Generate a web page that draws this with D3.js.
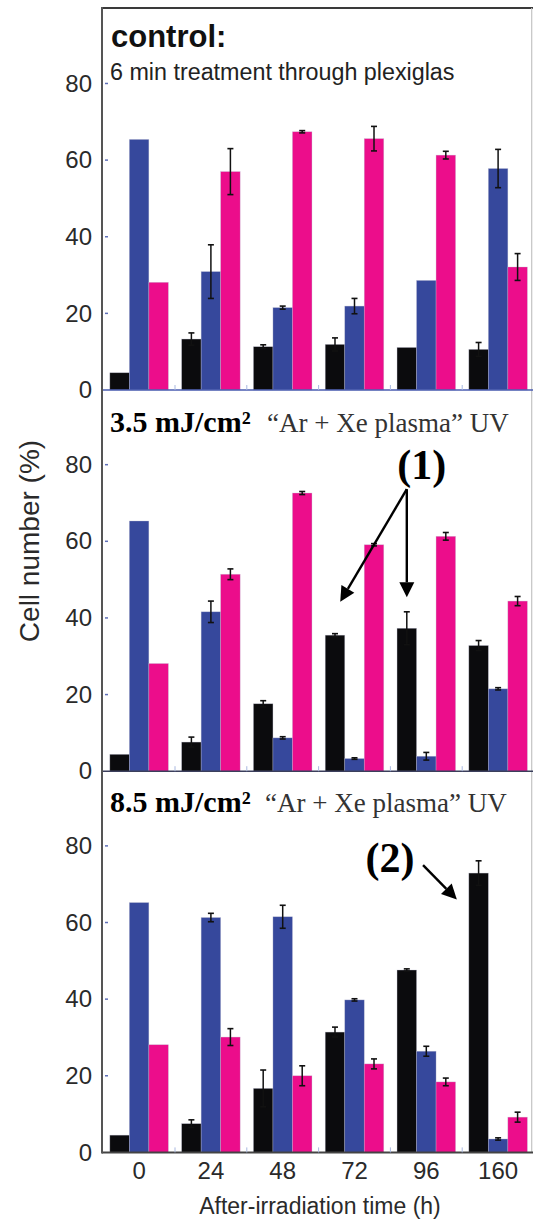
<!DOCTYPE html>
<html><head><meta charset="utf-8">
<script src="https://cdn.jsdelivr.net/npm/d3@7"></script>
<style>html,body{margin:0;padding:0;background:#fff;} svg{display:block;}</style>
</head><body>
<svg id="chart" width="533" height="1222"></svg>
<script>
// ---------- data ----------
const times = ["0", "24", "48", "72", "96", "160"];
const seriesKeys = ["black", "blue", "magenta"];
const yTicks = [0, 20, 40, 60, 80];

// control: 6 min treatment through plexiglas
const controlBlack      = [4.5, 13.3, 11.3, 11.9, 11.1, 10.6];
const controlBlackErr   = [0, 1.6, 0.5, 1.7, 0, 1.8];
const controlBlue       = [65.4, 30.9, 21.5, 21.9, 28.6, 57.8];
const controlBlueErr    = [0, 7.0, 0.4, 2.0, 0, 5.0];
const controlMagenta    = [28.1, 57.0, 67.4, 65.6, 61.3, 32.1];
const controlMagentaErr = [0, 6.0, 0.3, 3.2, 1.0, 3.5];

// 3.5 mJ/cm2
const low35Black      = [4.4, 7.6, 17.6, 35.5, 37.3, 32.8];
const low35BlackErr   = [0, 1.3, 0.8, 0.4, 4.3, 1.3];
const low35Blue       = [65.3, 41.6, 8.7, 3.3, 3.9, 21.5];
const low35BlueErr    = [0, 2.8, 0.3, 0.2, 1.0, 0.3];
const low35Magenta    = [28.1, 51.4, 72.6, 59.1, 61.3, 44.4];
const low35MagentaErr = [0, 1.4, 0.4, 0.3, 1.0, 1.2];

// 8.5 mJ/cm2
const high85Black      = [4.5, 7.5, 16.7, 31.4, 47.6, 72.9];
const high85BlackErr   = [0, 1.0, 4.8, 1.3, 0.3, 3.2];
const high85Blue       = [65.2, 61.3, 61.5, 39.8, 26.4, 3.5];
const high85BlueErr    = [0, 1.1, 3.0, 0.3, 1.3, 0.3];
const high85Magenta    = [28.1, 30.1, 20.0, 23.1, 18.4, 9.2];
const high85MagentaErr = [0, 2.2, 2.6, 1.3, 1.0, 1.3];

// ---------- styles ----------
const colors = {black: "#0b0b0d", blue: "#36489c", magenta: "#ec0d8b"};
const SANS = "'Liberation Sans', Arial, sans-serif";
const SERIF = "'Liberation Serif', 'Times New Roman', serif";

const panels = [
  {vals: [controlBlack, controlBlue, controlMagenta], errs: [controlBlackErr, controlBlueErr, controlMagentaErr]},
  {vals: [low35Black, low35Blue, low35Magenta], errs: [low35BlackErr, low35BlueErr, low35MagentaErr]},
  {vals: [high85Black, high85Blue, high85Magenta], errs: [high85BlackErr, high85BlueErr, high85MagentaErr]}
];

const svg = d3.select("#chart");
const panelTop0 = 8, panelH = 382, panelGap = 381.2;
const axisX = 102;

const x0 = d3.scaleBand().domain(times).range([103.2, 534]).paddingInner(0.185).paddingOuter(0.0925);
const x1 = d3.scaleBand().domain(seriesKeys).range([0, x0.bandwidth()]);

const yScales = panels.map((p, i) => {
  const top = panelTop0 + i * panelGap;
  return d3.scaleLinear().domain([0, 99.7]).range([top + panelH, top]);
});

// frame: top & right border
svg.append("line").attr("x1", axisX - 1).attr("x2", 533).attr("y1", panelTop0).attr("y2", panelTop0)
  .attr("stroke", "#3a3a3a").attr("stroke-width", 2);
svg.append("line").attr("x1", 531.7).attr("x2", 531.7).attr("y1", panelTop0).attr("y2", yScales[2](0))
  .attr("stroke", "#c4c4c4").attr("stroke-width", 1.2);

panels.forEach((p, pi) => {
  const y = yScales[pi];
  const g = svg.append("g");

  // bars
  const rows = [];
  times.forEach((t, ti) => {
    seriesKeys.forEach((s, si) => {
      rows.push({t, s, v: p.vals[si][ti], e: p.errs[si][ti]});
    });
  });
  g.selectAll("rect.bar").data(rows).join("rect")
    .attr("class", "bar")
    .attr("x", d => x0(d.t) + x1(d.s))
    .attr("width", x1.bandwidth())
    .attr("y", d => y(d.v))
    .attr("height", d => y(0) - y(d.v))
    .attr("fill", d => colors[d.s])
    .attr("stroke", "rgba(190,190,210,0.55)").attr("stroke-width", 0.6);

  // error bars
  const eb = g.selectAll("g.err").data(rows.filter(d => d.e > 0)).join("g").attr("class", "err");
  const cx = d => x0(d.t) + x1(d.s) + x1.bandwidth() / 2;
  eb.append("line").attr("x1", cx).attr("x2", cx)
    .attr("y1", d => y(d.v - d.e)).attr("y2", d => y(d.v + d.e))
    .attr("stroke", "#111").attr("stroke-width", 1.5);
  [1, -1].forEach(sign => {
    eb.append("line").attr("x1", d => cx(d) - 3).attr("x2", d => cx(d) + 3)
      .attr("y1", d => y(d.v + sign * d.e)).attr("y2", d => y(d.v + sign * d.e))
      .attr("stroke", "#111").attr("stroke-width", 1.6);
  });

  // x axis baseline
  g.append("line").attr("x1", axisX).attr("x2", 533).attr("y1", y(0)).attr("y2", y(0))
    .attr("stroke", pi === 0 ? "#4a5cb0" : (pi === 1 ? "#3b3f5c" : "#444"))
    .attr("stroke-width", pi === 2 ? 2 : 1.6);

  // band boundary ticks
  const halfGap = (x0.step() - x0.bandwidth()) / 2;
  g.selectAll("line.bt").data(times.slice(1)).join("line").attr("class", "bt")
    .attr("x1", t => x0(t) - halfGap).attr("x2", t => x0(t) - halfGap)
    .attr("y1", y(0)).attr("y2", y(0) - 5)
    .attr("stroke", "#a9b8e0").attr("stroke-width", 1);

  // y tick marks (inside)
  g.selectAll("line.yt").data(yTicks.filter(v => v > 0)).join("line").attr("class", "yt")
    .attr("x1", axisX + 3).attr("x2", axisX + 6)
    .attr("y1", v => y(v)).attr("y2", v => y(v))
    .attr("stroke", "#6070b8").attr("stroke-width", 1.5);

  // y axis labels
  const ya = g.append("g").attr("transform", `translate(${axisX},0)`)
    .call(d3.axisLeft(y).tickValues(yTicks).tickSize(0).tickPadding(10));
  ya.select(".domain").remove();
  ya.selectAll("text").attr("font-family", SANS).attr("font-size", 24).attr("fill", "#2a2a2a");
});

// left axis line (continuous)
svg.append("line").attr("x1", axisX).attr("x2", axisX).attr("y1", panelTop0 - 1).attr("y2", yScales[2](0) + 1)
  .attr("stroke", "#555").attr("stroke-width", 2);

// x axis labels (bottom panel only)
const xa = svg.append("g").attr("transform", `translate(0,${yScales[2](0)})`)
  .call(d3.axisBottom(x0).tickSize(0).tickPadding(10));
xa.select(".domain").remove();
xa.selectAll("text").attr("font-family", SANS).attr("font-size", 24).attr("fill", "#2a2a2a");

// axis titles
svg.append("text").attr("x", 320).attr("y", 1214).attr("text-anchor", "middle")
  .attr("font-family", SANS).attr("font-size", 23).attr("fill", "#2a2a2a")
  .text("After-irradiation time (h)");
svg.append("text").attr("transform", "translate(39,541) rotate(-90)").attr("text-anchor", "middle")
  .attr("font-family", SANS).attr("font-size", 28).attr("fill", "#2a2a2a")
  .text("Cell number (%)");

// panel titles
svg.append("text").attr("x", 111).attr("y", 46.5).attr("font-family", SANS).attr("font-weight", "bold")
  .attr("font-size", 31).attr("fill", "#111").text("control:");
svg.append("text").attr("x", 110).attr("y", 80).attr("font-family", SANS)
  .attr("font-size", 23.3).attr("fill", "#222").text("6 min treatment through plexiglas");

[[431.7, "3.5", 267], [811.7, "8.5", 265]].forEach(([by, dose, rx]) => {
  const t = svg.append("text").attr("y", by).attr("font-family", SERIF);
  t.append("tspan").attr("x", 110).attr("font-weight", "bold").attr("font-size", 30).attr("fill", "#000")
    .text(dose + " mJ/cm²");
  t.append("tspan").attr("x", rx).attr("font-size", 27).attr("fill", "#333")
    .text("\u201CAr + Xe plasma\u201D UV");
});

// annotations
function arrow(xa, ya, xb, yb) {
  const ang = Math.atan2(yb - ya, xb - xa), L = 15, Wd = 7.5;
  const bx = xb - L * Math.cos(ang), by = yb - L * Math.sin(ang);
  svg.append("line").attr("x1", xa).attr("y1", ya).attr("x2", bx).attr("y2", by)
    .attr("stroke", "#000").attr("stroke-width", 2.4);
  const px = -Math.sin(ang) * Wd, py = Math.cos(ang) * Wd;
  svg.append("path").attr("d", `M${xb},${yb}L${bx + px},${by + py}L${bx - px},${by - py}Z`).attr("fill", "#000");
}
const y2 = yScales[1], y3 = yScales[2];
const blackCenter = t => x0(t) + x1("black") + x1.bandwidth() / 2;
svg.append("text").attr("x", 421.7).attr("y", 479).attr("text-anchor", "middle")
  .attr("font-family", SERIF).attr("font-weight", "bold").attr("font-size", 42).text("(1)");
arrow(blackCenter("96"), y2(73.6), x0("72") + 15, y2(44.2));
arrow(blackCenter("96"), y2(73.6), blackCenter("96"), y2(45.4));
svg.append("text").attr("x", 390).attr("y", 872).attr("text-anchor", "middle")
  .attr("font-family", SERIF).attr("font-weight", "bold").attr("font-size", 42).text("(2)");
arrow(x0("96") + 26, y3(75), x0("160") - 12, y3(66));
</script>
</body></html>
